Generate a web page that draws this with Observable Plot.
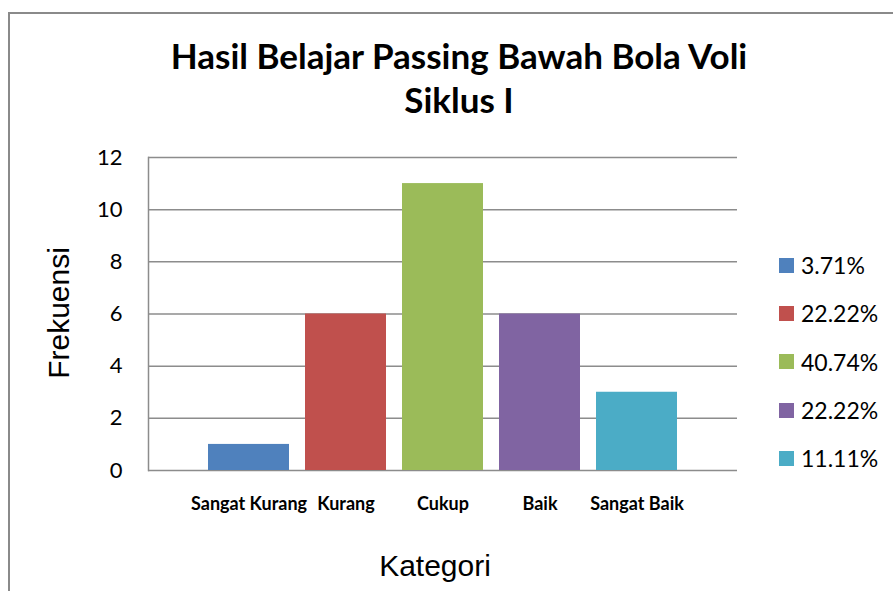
<!DOCTYPE html>
<html><head><meta charset="utf-8">
<script src="https://cdn.jsdelivr.net/npm/d3@7"></script>
<script src="https://cdn.jsdelivr.net/npm/@observablehq/plot@0.6"></script>
<style>
body{margin:0;background:#fff;}
#wrap{position:relative;width:893px;height:591px;overflow:hidden;background:#fff;font-family:Lato,"Open Sans",sans-serif;color:#000;}
#frame{position:absolute;left:8px;top:12px;width:1000px;height:1000px;border-left:2px solid #8a8a8a;border-top:2px solid #8a8a8a;box-sizing:border-box;}
#title{position:absolute;left:0;width:918px;top:33px;text-align:center;font-weight:700;font-size:35px;line-height:44px;}
#chart{position:absolute;left:0;top:130px;}
#ylabel{position:absolute;left:59px;top:313px;transform:translate(-50%,-50%) rotate(-90deg);font-family:"Liberation Sans",Arial,sans-serif;font-size:30px;white-space:nowrap;}
#xlabel{position:absolute;left:435px;top:566px;transform:translate(-50%,-50%);font-family:"Liberation Sans",Arial,sans-serif;font-size:30px;white-space:nowrap;}
#legend{position:absolute;left:779px;top:241px;}
.lrow{display:flex;align-items:center;height:48.3px;font-size:23px;}
.sw{width:15px;height:15px;margin-right:7px;}
</style>
</head><body>
<div id="wrap">
  <div id="frame"></div>
  <div id="title">Hasil Belajar Passing Bawah Bola Voli<br>Siklus I</div>
  <div id="chart"></div>
  <div id="ylabel">Frekuensi</div>
  <div id="xlabel">Kategori</div>
  <div id="legend"></div>
</div>
<script>
const categories = ["Sangat Kurang", "Kurang", "Cukup", "Baik", "Sangat Baik"];
const frequencies = [1, 6, 11, 6, 3];
const percentLabels = ["3.71%", "22.22%", "40.74%", "22.22%", "11.11%"];
const colors = ["#4F81BD", "#C0504D", "#9BBB59", "#8064A2", "#4BACC6"];
const yTicks = [0, 2, 4, 6, 8, 10, 12];

const data = categories.map((c, i) => ({category: c, value: frequencies[i]}));

const chart = Plot.plot({
  width: 893,
  height: 461,
  marginTop: 27,
  marginBottom: 121,
  marginLeft: 148,
  marginRight: 156,
  style: {fontFamily: "Lato, 'Open Sans', sans-serif", color: "#000", background: "transparent", overflow: "visible"},
  x: {domain: categories, paddingInner: 0.165, paddingOuter: 0.614, label: null},
  y: {domain: [0, 12], label: null},
  color: {domain: categories, range: colors},
  marks: [
    Plot.gridY(yTicks, {stroke: "#8c8c8c", strokeOpacity: 1, strokeWidth: 1.5}),
    Plot.frame({anchor: "left", stroke: "#8c8c8c", strokeWidth: 1.5}),
    Plot.barY(data, {x: "category", y: "value", fill: "category"}),
    Plot.axisY(yTicks, {tickSize: 0, tickPadding: 26, fontSize: 22, label: null}),
    Plot.axisX({tickSize: 0, tickPadding: 27, fontSize: 18, fontWeight: "bold", label: null})
  ]
});
document.getElementById("chart").appendChild(chart);

const legend = d3.select("#legend");
percentLabels.forEach((p, i) => {
  const row = legend.append("div").attr("class", "lrow");
  row.append("div").attr("class", "sw").style("background", colors[i]);
  row.append("span").text(p);
});
</script>
</body></html>
